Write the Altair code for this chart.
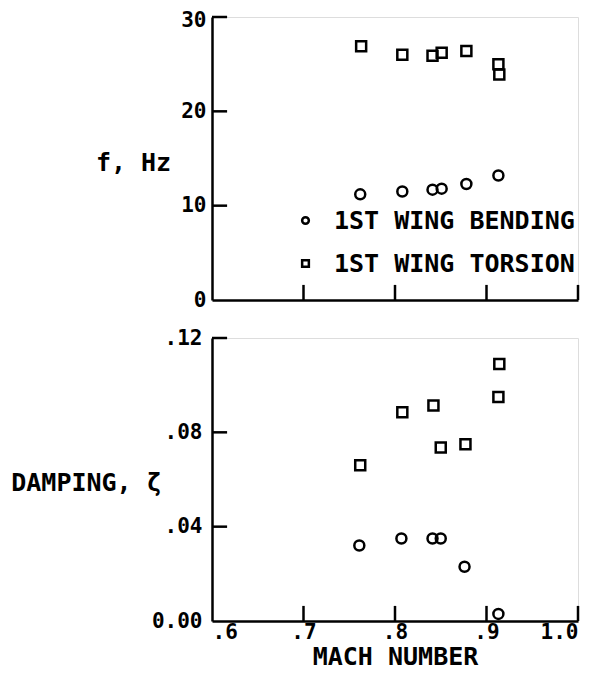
import altair as alt
import pandas as pd

# ---- data ----
modes = ["1ST WING BENDING", "1ST WING TORSION"]

mach_f_bend = [0.762, 0.808, 0.841, 0.851, 0.878, 0.913]
f_bend = [11.2, 11.5, 11.7, 11.8, 12.3, 13.2]
mach_f_tors = [0.763, 0.808, 0.841, 0.851, 0.878, 0.913, 0.914]
f_tors = [26.9, 26.0, 25.9, 26.2, 26.4, 25.0, 23.9]

mach_z_bend = [0.761, 0.807, 0.841, 0.850, 0.876, 0.913]
z_bend = [0.032, 0.035, 0.035, 0.035, 0.023, 0.003]
mach_z_tors = [0.762, 0.808, 0.842, 0.850, 0.877, 0.914, 0.913]
z_tors = [0.066, 0.0885, 0.0914, 0.0736, 0.075, 0.109, 0.095]

x_ticks = [0.6, 0.7, 0.8, 0.9, 1.0]
x_inner_ticks = [0.7, 0.8, 0.9, 1.0]
f_ticks = [0, 10, 20, 30]
f_inner_ticks = [10, 20, 30]
z_ticks = [0.0, 0.04, 0.08, 0.12]
z_inner_ticks = [0.04, 0.08, 0.12]

X_DOMAIN = [0.6, 1.0]
F_DOMAIN = [0, 30]
Z_DOMAIN = [0, 0.12]
FONT = "DejaVu Sans Mono"
W = 366
H = 283

top_df = pd.DataFrame({
    "mach": mach_f_bend + mach_f_tors,
    "val": f_bend + f_tors,
    "mode": [modes[0]] * len(f_bend) + [modes[1]] * len(f_tors),
})
bot_df = pd.DataFrame({
    "mach": mach_z_bend + mach_z_tors,
    "val": z_bend + z_tors,
    "mode": [modes[0]] * len(z_bend) + [modes[1]] * len(z_tors),
})

xs = alt.Scale(domain=X_DOMAIN, nice=False)
fs = alt.Scale(domain=F_DOMAIN, nice=False)
zs = alt.Scale(domain=Z_DOMAIN, nice=False)

x_label_expr = "datum.value == 1 ? '1.0' : replace(format(datum.value, '.1f'), '0.', '.')"
z_label_expr = "datum.value == 0 ? '0.00' : replace(format(datum.value, '.2f'), '0.', '.')"

common_axis = dict(grid=False, ticks=False, domainColor="black", domainWidth=2.5,
                   labelFont=FONT, labelFontSize=21, labelFontWeight="bold",
                   labelColor="black", titleFont=FONT, titleFontSize=25,
                   titleFontWeight="bold", titleColor="black")

shape_scale = alt.Scale(domain=modes, range=["circle", "square"])

# ---------- top panel ----------
top_points = alt.Chart(top_df).mark_point(
    filled=False, color="black", strokeWidth=2.5, size=100, opacity=1
).encode(
    x=alt.X("mach:Q", scale=xs, axis=alt.Axis(values=x_ticks, labels=False, title=None, **common_axis)),
    y=alt.Y("val:Q", scale=fs, axis=alt.Axis(
        values=f_ticks, title="f, Hz", titleAngle=0, titleX=-79, titleY=145,
        titleAlign="center", titleBaseline="middle", labelPadding=6,
        labelOffset={"condition": {"test": "datum.value == 30", "value": 3}, "value": 0},
        **common_axis)),
    shape=alt.Shape("mode:N", scale=shape_scale, legend=alt.Legend(
        title=None, orient="none", legendX=81, legendY=191, padding=0,
        labelFont=FONT, labelFontSize=25, labelFontWeight="bold", labelColor="black",
        labelLimit=500, symbolSize=45, symbolStrokeWidth=2.5, symbolStrokeColor="black",
        labelOffset=16, rowPadding=17)),
)

top_xt = alt.Chart(pd.DataFrame({"t": x_inner_ticks})).transform_calculate(
    y0="0", y1="1.6").mark_rule(color="black", strokeWidth=2.5).encode(
    x=alt.X("t:Q", scale=xs), y=alt.Y("y0:Q", scale=fs), y2="y1:Q")
top_yt = alt.Chart(pd.DataFrame({"t": f_inner_ticks})).transform_calculate(
    x0="0.6", x1="0.6165").mark_rule(color="black", strokeWidth=2.5).encode(
    y=alt.Y("t:Q", scale=fs), x=alt.X("x0:Q", scale=xs), x2="x1:Q")

top = alt.layer(top_points, top_xt, top_yt).properties(width=W, height=H)

# ---------- bottom panel ----------
bot_points = alt.Chart(bot_df).mark_point(
    filled=False, color="black", strokeWidth=2.5, size=100, opacity=1
).encode(
    x=alt.X("mach:Q", scale=xs, axis=alt.Axis(
        values=x_ticks, labelExpr=x_label_expr, title="MACH NUMBER",
        labelPadding=0, titlePadding=2, **common_axis)),
    y=alt.Y("val:Q", scale=zs, axis=alt.Axis(
        values=z_ticks, labelExpr=z_label_expr, title="DAMPING, ζ", titleAngle=0,
        titleX=-126, titleY=144, titleAlign="center", titleBaseline="middle",
        labelPadding=10, **common_axis)),
    shape=alt.Shape("mode:N", scale=shape_scale, legend=None),
)
bot_xt = alt.Chart(pd.DataFrame({"t": x_inner_ticks})).transform_calculate(
    y0="0", y1="0.0064").mark_rule(color="black", strokeWidth=2.5).encode(
    x=alt.X("t:Q", scale=xs), y=alt.Y("y0:Q", scale=zs), y2="y1:Q")
bot_yt = alt.Chart(pd.DataFrame({"t": z_inner_ticks})).transform_calculate(
    x0="0.6", x1="0.6165").mark_rule(color="black", strokeWidth=2.5).encode(
    y=alt.Y("t:Q", scale=zs), x=alt.X("x0:Q", scale=xs), x2="x1:Q")

bottom = alt.layer(bot_points, bot_xt, bot_yt).properties(width=W, height=H)

chart = alt.vconcat(top, bottom, spacing=15).resolve_scale(
    shape="independent", y="independent"
).properties(
    padding={"top": 0, "left": 2, "right": 0, "bottom": 0}
).configure_view(stroke=None).configure(background="white")

chart.save("out.html", embed_options={"renderer": "svg", "actions": False})
